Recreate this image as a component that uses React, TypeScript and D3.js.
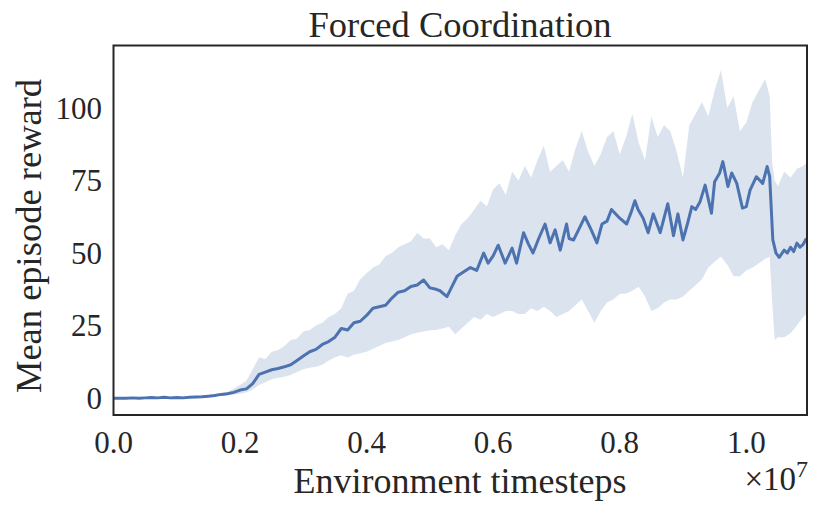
import React from 'react';
import * as d3 from 'd3';

// timesteps in units of 1e7
const meanSteps = [
  0, 0.01, 0.02, 0.03, 0.04, 0.05, 0.06, 0.07, 0.08, 0.09, 0.10, 0.11, 0.12, 0.13, 0.14, 0.15, 0.16, 0.17, 0.18, 0.19,
  0.20, 0.21, 0.22, 0.23, 0.24, 0.25, 0.26, 0.27, 0.28, 0.29, 0.30, 0.31, 0.32, 0.33, 0.34, 0.35, 0.36, 0.37, 0.38, 0.39,
  0.40, 0.41, 0.42, 0.43, 0.44, 0.45, 0.46, 0.47, 0.48, 0.49, 0.50, 0.51, 0.516, 0.527, 0.535, 0.543, 0.55, 0.564, 0.574, 0.585,
  0.592, 0.60, 0.608, 0.619, 0.63, 0.637, 0.648, 0.656, 0.663, 0.672, 0.682, 0.69, 0.698, 0.706, 0.716, 0.72, 0.727, 0.735, 0.745, 0.755,
  0.764, 0.772, 0.78, 0.787, 0.80, 0.811, 0.818, 0.824, 0.829, 0.837, 0.845, 0.853, 0.864, 0.876, 0.885, 0.892, 0.90, 0.907, 0.914, 0.92,
  0.927, 0.935, 0.945, 0.95, 0.958, 0.963, 0.971, 0.977, 0.985, 0.994, 1.00, 1.006, 1.016, 1.026, 1.033, 1.037, 1.042, 1.047, 1.052, 1.06,
  1.065, 1.07, 1.075, 1.08, 1.085, 1.09, 1.095,
];
const meanReward = [
  0, 0, 0, 0.1, 0, 0.1, 0.2, 0.1, 0.3, 0.1, 0.2, 0.1, 0.3, 0.4, 0.5, 0.7, 0.9, 1.3, 1.5, 2.0,
  2.8, 3.2, 5.0, 8.2, 9.0, 9.8, 10.2, 10.8, 11.5, 13.0, 14.5, 16.0, 16.8, 18.5, 19.5, 21.0, 24.0, 23.5, 26.0, 26.5,
  28.5, 31.0, 31.5, 32.0, 34.5, 36.5, 37.0, 38.5, 39.0, 40.7, 38.0, 37.5, 37.0, 35.0, 38.5, 42.0, 43.0, 45.0, 44.0, 50.0,
  46.5, 49.0, 52.7, 46.5, 51.7, 46.5, 57.0, 53.0, 50.0, 55.0, 60.0, 53.5, 58.0, 51.0, 60.0, 55.0, 54.5, 58.0, 62.5, 58.0,
  53.5, 60.0, 61.0, 65.0, 62.0, 60.0, 64.0, 68.0, 65.0, 62.0, 57.0, 63.5, 57.0, 67.0, 56.0, 63.5, 54.5, 60.0, 66.0, 65.0,
  67.7, 73.4, 63.7, 74.6, 77.6, 81.5, 72.9, 77.6, 74.0, 65.5, 66.0, 71.7, 76.3, 74.0, 79.8, 76.3, 54.5, 50.0, 48.5, 51.0,
  50.0, 52.0, 50.5, 53.4, 52.0, 53.0, 55.0,
];

const bandSteps = [
  0, 0.05, 0.10, 0.15, 0.18,
  0.20, 0.21, 0.22, 0.23, 0.24, 0.25, 0.26, 0.27, 0.28, 0.29, 0.30, 0.31, 0.32, 0.33, 0.34, 0.35, 0.36, 0.37, 0.38, 0.39,
  0.40, 0.41, 0.42, 0.43, 0.44, 0.45, 0.46, 0.47, 0.48, 0.49, 0.50, 0.51, 0.52, 0.53, 0.54, 0.55, 0.56, 0.57, 0.58, 0.59,
  0.60, 0.61, 0.62, 0.63, 0.64, 0.65, 0.66, 0.67, 0.68, 0.69, 0.70, 0.71, 0.72, 0.73, 0.74, 0.75, 0.76, 0.77, 0.78, 0.79,
  0.80, 0.81, 0.82, 0.83, 0.84, 0.85, 0.86, 0.87, 0.88, 0.89, 0.90, 0.91, 0.92, 0.93, 0.94, 0.95, 0.96, 0.97, 0.98, 0.99,
  1.00, 1.01, 1.02, 1.03, 1.037, 1.041, 1.045, 1.05, 1.06, 1.07, 1.08, 1.09, 1.095,
];
const bandUpper = [
  0.3, 0.4, 0.5, 1.0, 2.0,
  4.5, 6, 10, 14, 13.5, 16, 16.5, 18, 20, 20.5, 23, 23.5, 25, 26, 28, 29, 31, 36, 37, 41,
  43, 45, 46, 49, 50, 52, 53, 54, 57, 55, 55, 52, 53, 51, 56, 60, 62, 65, 68, 66,
  72, 74, 70, 78, 75, 80, 76, 82, 87, 78, 80, 82, 78, 86, 92, 85, 80, 84, 90, 92,
  84, 90, 98, 88, 82, 97, 90, 94, 92, 85, 76, 94, 98, 102, 97, 106, 113, 100, 104, 92,
  95, 102, 106, 110, 104, 81, 75, 73, 78, 76, 79, 80, 81,
];
const bandLower = [
  -0.3, -0.2, -0.1, 0.4, 1.0,
  1.5, 2, 3, 4.5, 5.5, 6.5, 7, 7.4, 8, 9, 10, 10.5, 10.8, 11.5, 13, 14, 14.8, 14, 15, 15.5,
  16, 17, 18, 19, 19.5, 20, 21, 22, 22.5, 23, 23.4, 23.5, 24, 24.6, 22, 24, 26, 28, 27, 29,
  28, 29, 30, 30, 29, 29, 31, 30, 31.5, 30, 28, 29, 30, 32, 34, 30, 26, 30, 33, 34,
  36, 36, 37, 38.4, 35, 30, 31, 33, 34, 34, 35, 37, 39, 41, 45, 47, 48.7, 46, 42, 42,
  44, 45, 46.5, 48, 48.7, 33, 20, 21, 21, 22.4, 25, 28, 29,
];

const xTicks = [0, 0.2, 0.4, 0.6, 0.8, 1.0];
const yTicks = [0, 25, 50, 75, 100];

const W = 830;
const H = 515;
const left = 113.5;
const right = 807;
const top = 45.5;
const bottom = 415;
const font = '"Liberation Serif", "DejaVu Serif", serif';
const ink = '#262626';
const blue = '#4c72b0';

export default function App() {
  const x = d3.scaleLinear().domain([0, 1.096]).range([left, right]);
  const y = d3.scaleLinear().domain([-5.8, 121.5]).range([bottom, top]);

  const area = d3.area<number>()
    .x((_, i) => x(bandSteps[i]))
    .y0((_, i) => y(bandLower[i]))
    .y1((_, i) => y(bandUpper[i]));
  const line = d3.line<number>()
    .x((_, i) => x(meanSteps[i]))
    .y(d => y(d));

  return (
    <svg width={W} height={H} style={{ position: 'absolute', left: 0, top: 0, background: '#fff' }}>
      <defs>
        <clipPath id="plot">
          <rect x={left} y={top} width={right - left} height={bottom - top} />
        </clipPath>
      </defs>
      <g clipPath="url(#plot)">
        <path d={area(bandUpper) || ''} fill={blue} fillOpacity={0.2} stroke="none" />
        <path d={line(meanReward) || ''} fill="none" stroke={blue} strokeWidth={3} strokeLinejoin="round" />
      </g>
      <rect x={left} y={top} width={right - left} height={bottom - top} fill="none" stroke={ink} strokeWidth={2} />

      {xTicks.map(t => (
        <text key={t} x={x(t)} y={453} fontSize={31} fontFamily={font} fill={ink} textAnchor="middle">
          {d3.format('.1f')(t)}
        </text>
      ))}
      {yTicks.map(t => (
        <text key={t} x={102} y={y(t)} dy="0.35em" fontSize={31} fontFamily={font} fill={ink} textAnchor="end">
          {t}
        </text>
      ))}

      <text x={460} y={37} fontSize={36.5} fontFamily={font} fill={ink} textAnchor="middle">Forced Coordination</text>
      <text x={460} y={493} fontSize={36} fontFamily={font} fill={ink} textAnchor="middle">Environment timesteps</text>
      <text transform={`translate(41,236) rotate(-90)`} fontSize={36.5} fontFamily={font} fill={ink} textAnchor="middle">
        Mean episode reward
      </text>
      <text x={808} y={490} fontSize={33} fontFamily={font} fill={ink} textAnchor="end">
        ×10<tspan dy={-13} fontSize={24}>7</tspan>
      </text>
    </svg>
  );
}
